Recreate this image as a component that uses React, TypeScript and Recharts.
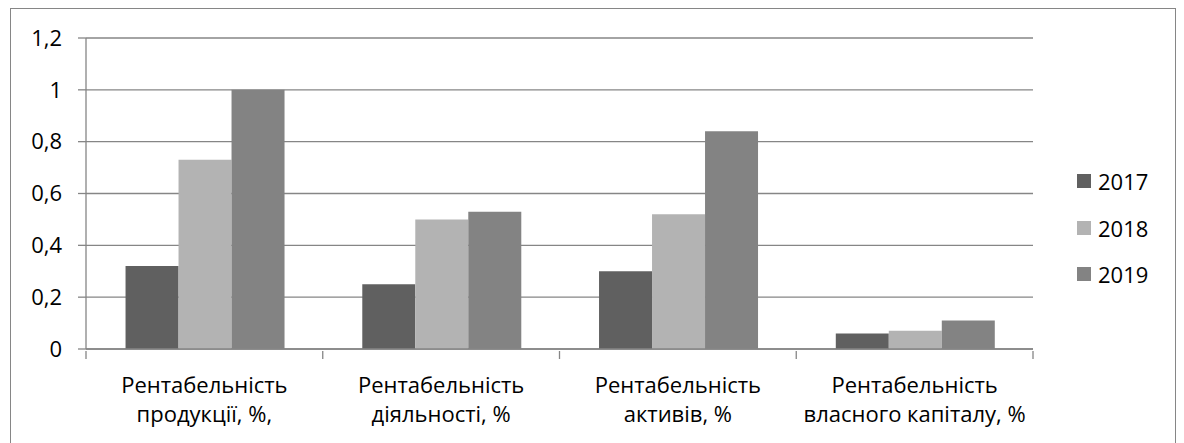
import React from "react";
import { BarChart, Bar, XAxis, YAxis, CartesianGrid } from "recharts";

const categories = [
  "Рентабельність продукції, %,",
  "Рентабельність діяльності, %",
  "Рентабельність активів, %",
  "Рентабельність власного капіталу, %",
];
const series2017 = [0.32, 0.25, 0.3, 0.06];
const series2018 = [0.73, 0.5, 0.52, 0.07];
const series2019 = [1.0, 0.53, 0.84, 0.11];
const yTicks = [0, 0.2, 0.4, 0.6, 0.8, 1, 1.2];
const seriesNames = ["2017", "2018", "2019"];
const colors = ["#606060", "#b3b3b3", "#838383"];

const data = categories.map((c, i) => ({
  name: c,
  "2017": series2017[i],
  "2018": series2018[i],
  "2019": series2019[i],
}));

const FONT = "'Open Sans', sans-serif";
const AXIS = "#868686";
const FS = 22;

const fmt = (v: number) => String(v).replace(".", ",");

const XTick = (props: any) => {
  const { x, y, payload, index } = props;
  const name: string = payload.value;
  const sp = name.indexOf(" ");
  const l1 = name.slice(0, sp);
  const l2 = name.slice(sp + 1);
  const half = 947 / 8;
  return (
    <g>
      <line x1={x - half} x2={x - half} y1={y} y2={y + 8} stroke={AXIS} strokeWidth={1.3} />
      {index === categories.length - 1 && (
        <line x1={x + half} x2={x + half} y1={y} y2={y + 8} stroke={AXIS} strokeWidth={1.3} />
      )}
      <text x={x} y={y + 42} textAnchor="middle" fontFamily={FONT} fontSize={FS} fill="#000">
        {l1}
      </text>
      <text x={x} y={y + 71} textAnchor="middle" fontFamily={FONT} fontSize={FS} fill="#000">
        {l2}
      </text>
    </g>
  );
};

export default function App() {
  return (
    <div style={{ position: "absolute", left: 0, top: 0, width: 1184, height: 443, background: "#fff", overflow: "hidden" }}>
      <div
        style={{
          position: "absolute",
          left: 10,
          top: 8,
          width: 1166,
          height: 460,
          border: "1px solid #868686",
          boxSizing: "border-box",
        }}
      />
      <div style={{ position: "absolute", left: 0, top: 0 }}>
        <BarChart
          width={1184}
          height={443}
          data={data}
          margin={{ top: 38, left: 10, right: 151, bottom: 14 }}
          barCategoryGap="16.7%"
          barGap={0}
        >
          <CartesianGrid vertical={false} stroke={AXIS} strokeWidth={1.3} />
          <XAxis
            dataKey="name"
            height={80}
            axisLine={{ stroke: AXIS, strokeWidth: 1.3 }}
            tickLine={false}
            tickSize={0}
            tick={<XTick />}
            interval={0}
          />
          <YAxis
            width={76}
            domain={[0, 1.2]}
            ticks={yTicks}
            tickFormatter={fmt}
            axisLine={{ stroke: AXIS, strokeWidth: 1.3 }}
            tickLine={{ stroke: AXIS, strokeWidth: 1.3 }}
            tickSize={8}
            tickMargin={16}
            tick={{ fill: "#000", fontSize: FS, fontFamily: FONT }}
            interval={0}
          />
          {seriesNames.map((s, i) => (
            <Bar key={s} dataKey={s} fill={colors[i]} isAnimationActive={false} />
          ))}
        </BarChart>
      </div>
      <div style={{ position: "absolute", left: 1077, top: 158, fontFamily: FONT, fontSize: FS, color: "#000" }}>
        {seriesNames.map((s, i) => (
          <div key={s} style={{ display: "flex", alignItems: "center", height: 46.5 }}>
            <div style={{ width: 14, height: 14, background: colors[i], marginRight: 7 }} />
            <span>{s}</span>
          </div>
        ))}
      </div>
    </div>
  );
}
